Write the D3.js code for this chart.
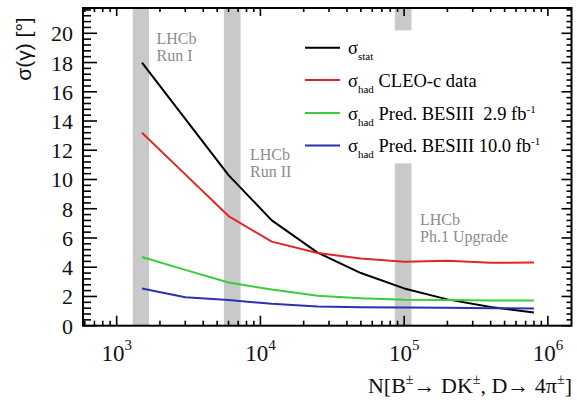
<!DOCTYPE html>
<html>
<head>
<meta charset="utf-8">
<script src="https://cdn.jsdelivr.net/npm/d3@7"></script>
<style>
  html, body { margin: 0; padding: 0; background: #fff; }
  svg { display: block; }
</style>
</head>
<body>
<svg id="chart" width="577" height="403"></svg>
<script>
// ---- data ----
const N = [1500, 3000, 6000, 12000, 25000, 50000, 100000, 200000, 400000, 800000];
const sigmaStat = [18.0, 14.15, 10.3, 7.2, 5.0, 3.6, 2.55, 1.8, 1.28, 0.9];
const sigmaCleo = [13.2, 10.35, 7.5, 5.75, 4.97, 4.6, 4.38, 4.45, 4.3, 4.33];
const sigmaBes29 = [4.7, 3.82, 2.95, 2.47, 2.05, 1.88, 1.78, 1.75, 1.72, 1.72];
const sigmaBes10 = [2.55, 1.95, 1.75, 1.5, 1.32, 1.27, 1.24, 1.22, 1.2, 1.17];

const bandLabels = [["LHCb", "Run I"], ["LHCb", "Run II"], ["LHCb", "Ph.1 Upgrade"]];
const bandStart = [1292, 5572, 86100];
const bandEnd = [1677, 7278, 112500];
const bandGapLow = [null, null, 11.1];
const bandGapHigh = [null, null, 20.2];

const xMajorTicks = [1e3, 1e4, 1e5, 1e6];
const xTickExp = ["3", "4", "5", "6"];
const yMajorTicks = [0, 2, 4, 6, 8, 10, 12, 14, 16, 18, 20];

const seriesNames = ["stat", "CLEO", "BES29", "BES10"];
const seriesColors = ["#000000", "#e02626", "#3ccb3c", "#2f2fb0"];

// ---- layout ----
const L = 83, R = 571.5, T = 8, B = 325.7;
const x = d3.scaleLog().domain([583, 1.46e6]).range([L, R]);
const y = d3.scaleLinear().domain([0, 21.73]).range([B, T]);

const svg = d3.select("#chart");
const serif = "'Liberation Serif', 'Times New Roman', serif";

// bands
const bandG = svg.append("g");
bandStart.forEach((s, i) => {
  const e = bandEnd[i];
  if (bandGapLow[i] === null) {
    bandG.append("rect").attr("x", x(s)).attr("width", x(e) - x(s))
      .attr("y", T).attr("height", B - T).attr("fill", "#c9c9c9");
  } else {
    bandG.append("rect").attr("x", x(s)).attr("width", x(e) - x(s))
      .attr("y", T).attr("height", y(bandGapHigh[i]) - T).attr("fill", "#c9c9c9");
    bandG.append("rect").attr("x", x(s)).attr("width", x(e) - x(s))
      .attr("y", y(bandGapLow[i])).attr("height", B - y(bandGapLow[i])).attr("fill", "#c9c9c9");
  }
});

// band labels
const bandLabelPos = [[156.5, 44], [250, 159.5], [420, 225]];
bandLabels.forEach((lines, i) => {
  const t = svg.append("text").attr("font-family", serif).attr("font-size", 16)
    .attr("fill", "#8c8c8c");
  lines.forEach((ln, j) => {
    t.append("tspan").attr("x", bandLabelPos[i][0]).attr("y", bandLabelPos[i][1] + j * 17).text(ln);
  });
});

// series lines
const allSeries = [sigmaStat, sigmaCleo, sigmaBes29, sigmaBes10];
const line = d3.line().x(d => x(d[0])).y(d => y(d[1]));
allSeries.forEach((vals, i) => {
  svg.append("path").datum(N.map((n, k) => [n, vals[k]]))
    .attr("d", line).attr("fill", "none").attr("stroke", seriesColors[i])
    .attr("stroke-width", 2).attr("stroke-linejoin", "round");
});

// frame
svg.append("rect").attr("x", L).attr("y", T).attr("width", R - L).attr("height", B - T)
  .attr("fill", "none").attr("stroke", "#000").attr("stroke-width", 2);

// ticks
const tg = svg.append("g").attr("stroke", "#000").attr("stroke-width", 1.6);
const [d0, d1] = x.domain();
for (let e = 2; e <= 6; e++) {
  for (let k = 1; k <= 9; k++) {
    const v = k * Math.pow(10, e);
    if (v < d0 || v > d1) continue;
    const major = k === 1;
    const xp = x(v);
    tg.append("line").attr("x1", xp).attr("x2", xp).attr("y1", B).attr("y2", B - (major ? 10 : 5));
    tg.append("line").attr("x1", xp).attr("x2", xp).attr("y1", T).attr("y2", T + (major ? 8 : 4));
  }
}
for (let i = 0; i <= 54; i++) {
  const v = i * 0.4;
  if (v > 21.73) break;
  const major = i % 5 === 0;
  const yp = y(v);
  tg.append("line").attr("x1", L).attr("x2", L + (major ? 14 : 8)).attr("y1", yp).attr("y2", yp);
  tg.append("line").attr("x1", R).attr("x2", R - (major ? 10 : 5)).attr("y1", yp).attr("y2", yp);
}

// y tick labels
yMajorTicks.forEach(v => {
  svg.append("text").attr("x", 73).attr("y", y(v) + 8)
    .attr("text-anchor", "end").attr("font-family", serif).attr("font-size", 22)
    .attr("fill", "#111").text(v);
});

// x tick labels
xMajorTicks.forEach((v, i) => {
  const t = svg.append("text").attr("x", x(v)).attr("y", 361)
    .attr("text-anchor", "middle").attr("font-family", serif).attr("font-size", 23)
    .attr("fill", "#111");
  t.append("tspan").text("10");
  t.append("tspan").attr("font-size", 15).attr("dy", -11).text(xTickExp[i]);
});

// axis titles
const xt = svg.append("text").attr("x", 572).attr("y", 393).attr("text-anchor", "end")
  .attr("font-family", serif).attr("font-size", 22).attr("fill", "#111");
xt.append("tspan").text("N[B");
xt.append("tspan").attr("font-size", 14).attr("dy", -9).text("±");
xt.append("tspan").attr("dy", 9).text("→ DK");
xt.append("tspan").attr("font-size", 14).attr("dy", -9).text("±");
xt.append("tspan").attr("dy", 9).text(", D→ 4π");
xt.append("tspan").attr("font-size", 14).attr("dy", -9).text("±");
xt.append("tspan").attr("dy", 9).text("]");

svg.append("text").attr("transform", "translate(31,49) rotate(-90)")
  .attr("text-anchor", "middle").attr("font-family", "'Liberation Sans', Arial, sans-serif")
  .attr("font-size", 21).attr("fill", "#111").text("σ(γ) [°]");

// legend
const legY = [47.7, 80, 113, 145.5];
const legSub = ["stat", "had", "had", "had"];
const legText = ["", " CLEO-c data", " Pred. BESIII\u00a0\u00a02.9 fb", " Pred. BESIII 10.0 fb"];
const legSup = ["", "", "-1", "-1"];
legY.forEach((ly, i) => {
  svg.append("line").attr("x1", 305).attr("x2", 340).attr("y1", ly).attr("y2", ly)
    .attr("stroke", seriesColors[i]).attr("stroke-width", 2);
  const t = svg.append("text").attr("x", 348).attr("y", ly + 6.5)
    .attr("font-family", serif).attr("font-size", 18.5).attr("fill", "#000");
  t.append("tspan").text("σ");
  t.append("tspan").attr("font-size", 11).attr("dy", 6).text(legSub[i]);
  if (legText[i]) {
    t.append("tspan").attr("dy", -6).text(legText[i]);
    t.append("tspan").attr("font-size", 11).attr("dy", -7).text(legSup[i]);
  }
});
</script>
</body>
</html>
